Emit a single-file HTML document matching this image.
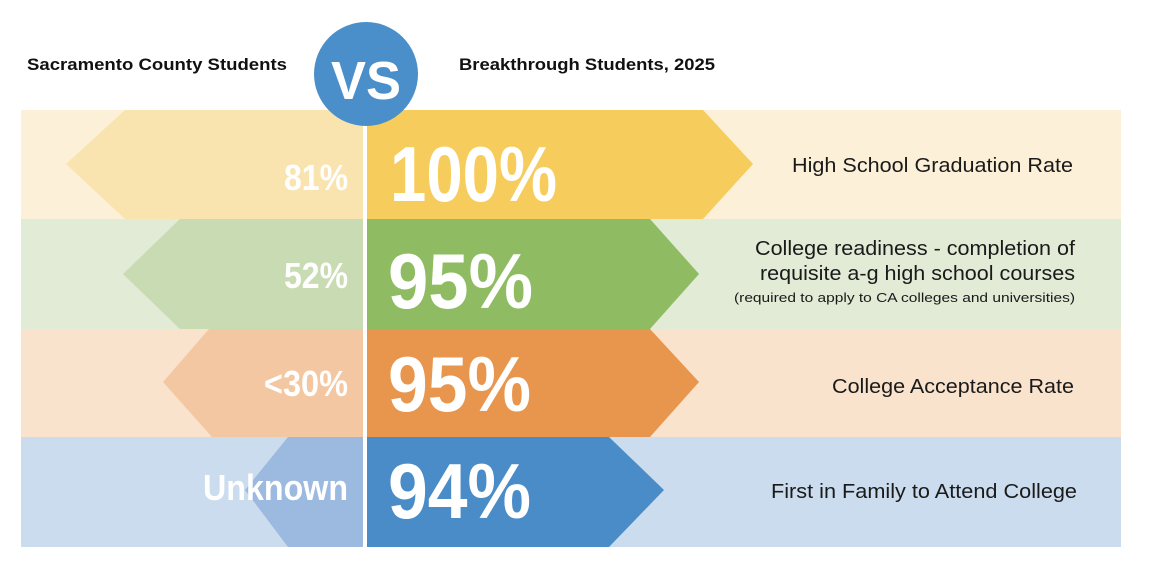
<!DOCTYPE html>
<html><head><style>
html,body{margin:0;padding:0;background:#fff;}
svg{display:block;font-family:"Liberation Sans",Arial,sans-serif;}
text{font-family:"Liberation Sans",Arial,sans-serif;}
</style></head><body>
<svg width="1152" height="576" viewBox="0 0 1152 576" xmlns="http://www.w3.org/2000/svg" font-family="Liberation Sans, sans-serif">
<rect x="21" y="110" width="1100" height="109" fill="#fcf0d8"/>
<rect x="21" y="219" width="1100" height="110" fill="#e1ebd6"/>
<rect x="21" y="329" width="1100" height="108" fill="#f9e3cd"/>
<rect x="21" y="437" width="1100" height="110" fill="#cbdcee"/>
<polygon points="125,110 363,110 363,219 125,219 66,164" fill="#f9e4b0"/>
<polygon points="180,219 363,219 363,329 180,329 123,274" fill="#c8dbb2"/>
<polygon points="209,329 363,329 363,437 212,437 163,382" fill="#f2c7a1"/>
<polygon points="288,437 363,437 363,547 288,547 245,490" fill="#9cb9df"/>
<polygon points="367,110 703,110 753,164 703,219 367,219" fill="#f6cc5c"/>
<polygon points="367,219 650,219 699,274 650,329 367,329" fill="#8fbc62"/>
<polygon points="367,329 650,329 699,382 650,437 367,437" fill="#e8964e"/>
<polygon points="367,437 609,437 664,490 609,547 367,547" fill="#4a8cc8"/>
<rect x="363" y="110" width="4" height="437" fill="#fff"/>
<circle cx="366" cy="74" r="52" fill="#4a8fca"/>
<text x="366" y="99" text-anchor="middle" font-size="54" font-weight="bold" fill="#fff" textLength="70" lengthAdjust="spacingAndGlyphs">VS</text>
<text x="27" y="70" font-size="17" font-weight="bold" fill="#111" textLength="260" lengthAdjust="spacingAndGlyphs">Sacramento County Students</text>
<text x="459" y="70" font-size="17" font-weight="bold" fill="#111" textLength="256" lengthAdjust="spacingAndGlyphs">Breakthrough Students, 2025</text>
<g font-weight="bold" fill="#fff" font-size="78">
<text x="390" y="201" textLength="167" lengthAdjust="spacingAndGlyphs">100%</text>
<text x="388" y="308" textLength="145" lengthAdjust="spacingAndGlyphs">95%</text>
<text x="388" y="411" textLength="143" lengthAdjust="spacingAndGlyphs">95%</text>
<text x="388" y="518" textLength="143" lengthAdjust="spacingAndGlyphs">94%</text>
</g>
<g font-weight="bold" fill="#fff" font-size="36" text-anchor="end">
<text x="348" y="190" textLength="64" lengthAdjust="spacingAndGlyphs">81%</text>
<text x="348" y="288" textLength="64" lengthAdjust="spacingAndGlyphs">52%</text>
<text x="348" y="396" textLength="84" lengthAdjust="spacingAndGlyphs">&lt;30%</text>
<text x="348" y="500" textLength="145" lengthAdjust="spacingAndGlyphs">Unknown</text>
</g>
<g fill="#1a1a1a" font-size="20" text-anchor="end">
<text x="1073" y="172" textLength="281" lengthAdjust="spacingAndGlyphs">High School Graduation Rate</text>
<text x="1075" y="255" textLength="320" lengthAdjust="spacingAndGlyphs">College readiness - completion of</text>
<text x="1075" y="280" textLength="315" lengthAdjust="spacingAndGlyphs">requisite a-g high school courses</text>
<text x="1075" y="302" font-size="13" textLength="341" lengthAdjust="spacingAndGlyphs">(required to apply to CA colleges and universities)</text>
<text x="1074" y="393" textLength="242" lengthAdjust="spacingAndGlyphs">College Acceptance Rate</text>
<text x="1077" y="498" textLength="306" lengthAdjust="spacingAndGlyphs">First in Family to Attend College</text>
</g>
</svg>
</body></html>
